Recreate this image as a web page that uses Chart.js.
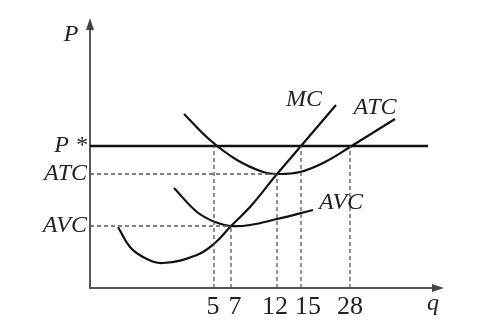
<!DOCTYPE html>
<html>
<head>
<meta charset="utf-8">
<script src="https://cdn.jsdelivr.net/npm/chart.js@4"></script>
<style>
  html, body { margin: 0; padding: 0; background: #fff; }
  #wrap { width: 504px; height: 325px; }
</style>
</head>
<body>
<div id="wrap"><canvas id="costChart"></canvas></div>
<script>
// Cost curves of a competitive firm (abstract units)
const qTickPos = [12.3, 14.5, 18.5, 21.8, 26.0];
const qTickLabels = ['5', '7', '12', '15', '28'];
const pTickPos = [14.2, 11.4, 6.2];
const pTickLabels = ['P *', 'ATC', 'AVC'];

const priceLevel = 14.2;
const priceLineEnd = 33.8;

const mcX = [2.8, 4.0, 5.5, 7.3, 10.7, 12.5, 14.1, 16.0, 18.7, 21.1, 24.6];
const mcY = [6.1, 4.1, 3.0, 2.5, 3.3, 4.5, 6.2, 8.1, 11.4, 14.2, 18.3];

const atcX = [9.4, 12.0, 14.7, 17.3, 18.7, 21.0, 23.5, 26.0, 30.5];
const atcY = [17.4, 14.8, 12.8, 11.6, 11.4, 11.6, 12.6, 14.1, 16.9];

const avcX = [8.4, 10.7, 12.5, 14.1, 16.0, 18.7, 22.3];
const avcY = [10.0, 7.6, 6.6, 6.2, 6.3, 6.9, 7.8];

// dashed drop lines: [q, level]
const dropPoints = [[12.4, 14.2], [14.1, 6.2], [18.7, 11.4], [21.1, 14.2], [26.0, 14.2]];
const levelLines = [[18.7, 11.4], [14.1, 6.2]];

// curve labels: [text, x, y]
const curveLabels = [['MC', 21.4, 18.8], ['ATC', 28.5, 18.0], ['AVC', 25.1, 8.5], ['P', -1.9, 25.3], ['q', 34.3, -1.6]];

const serif = '"Times New Roman", "Liberation Serif", serif';

function toPoints(xs, ys) {
    return xs.map((x, i) => ({ x: x, y: ys[i] }));
}

const curveStyle = {
    borderColor: '#111',
    borderWidth: 2.2,
    pointRadius: 0,
    fill: false,
    tension: 0.4
};

const dashStyle = {
    borderColor: '#555',
    borderWidth: 1.3,
    borderDash: [4, 3],
    pointRadius: 0,
    fill: false,
    tension: 0
};

const datasets = [];
dropPoints.forEach(p => {
    datasets.push(Object.assign({ data: [{ x: p[0], y: 0 }, { x: p[0], y: p[1] }] }, dashStyle));
});
levelLines.forEach(p => {
    datasets.push(Object.assign({ data: [{ x: 0, y: p[1] }, { x: p[0], y: p[1] }] }, dashStyle));
});
datasets.push(Object.assign({}, curveStyle, { data: [{ x: 0, y: priceLevel }, { x: priceLineEnd, y: priceLevel }], borderWidth: 2.5, tension: 0 }));
datasets.push(Object.assign({ data: toPoints(mcX, mcY) }, curveStyle));
datasets.push(Object.assign({ data: toPoints(atcX, atcY) }, curveStyle));
datasets.push(Object.assign({ data: toPoints(avcX, avcY) }, curveStyle));

// arrows on axes and italic curve labels
const sketchPlugin = {
    id: 'sketch',
    afterDraw(chart) {
        const ctx = chart.ctx;
        const area = chart.chartArea;
        const xs = chart.scales.x;
        const ys = chart.scales.y;
        ctx.save();
        ctx.fillStyle = '#444';
        ctx.beginPath();
        ctx.moveTo(area.left, area.top - 4);
        ctx.lineTo(area.left - 4, area.top + 8);
        ctx.lineTo(area.left + 4, area.top + 8);
        ctx.closePath();
        ctx.fill();
        ctx.beginPath();
        ctx.moveTo(area.right + 4, area.bottom);
        ctx.lineTo(area.right - 8, area.bottom - 4);
        ctx.lineTo(area.right - 8, area.bottom + 4);
        ctx.closePath();
        ctx.fill();

        ctx.fillStyle = '#222';
        ctx.font = 'italic 24px ' + serif;
        ctx.textAlign = 'center';
        ctx.textBaseline = 'middle';
        curveLabels.forEach(l => {
            ctx.fillText(l[0], xs.getPixelForValue(l[1]), ys.getPixelForValue(l[2]));
        });
        ctx.restore();
    }
};

new Chart(document.getElementById('costChart'), {
    type: 'line',
    data: { datasets: datasets },
    options: {
        responsive: true,
        maintainAspectRatio: false,
        animation: false,
        layout: { padding: { top: 22, right: 64, left: 0, bottom: 0 } },
        plugins: {
            legend: { display: false },
            tooltip: { enabled: false }
        },
        scales: {
            x: {
                type: 'linear',
                min: 0,
                max: 35,
                grid: { display: false, drawTicks: false },
                border: { display: true, color: '#555', width: 2 },
                afterBuildTicks: scale => { scale.ticks = qTickPos.map(v => ({ value: v })); },
                afterFit: scale => { scale.height = 37; },
                ticks: {
                    autoSkip: false,
                    maxRotation: 0,
                    padding: 4,
                    color: '#222',
                    font: { family: serif, size: 26 },
                    callback: (value, index) => qTickLabels[index]
                }
            },
            y: {
                type: 'linear',
                min: 0,
                max: 26.6,
                grid: { display: false, drawTicks: false },
                border: { display: true, color: '#555', width: 2 },
                afterBuildTicks: scale => { scale.ticks = pTickPos.map(v => ({ value: v })); },
                afterFit: scale => { scale.width = 90; },
                ticks: {
                    autoSkip: false,
                    padding: 3,
                    color: '#222',
                    font: { family: serif, size: 24, style: 'italic' },
                    callback: (value, index) => pTickLabels[index]
                }
            }
        }
    },
    plugins: [sketchPlugin]
});
</script>
</body>
</html>
